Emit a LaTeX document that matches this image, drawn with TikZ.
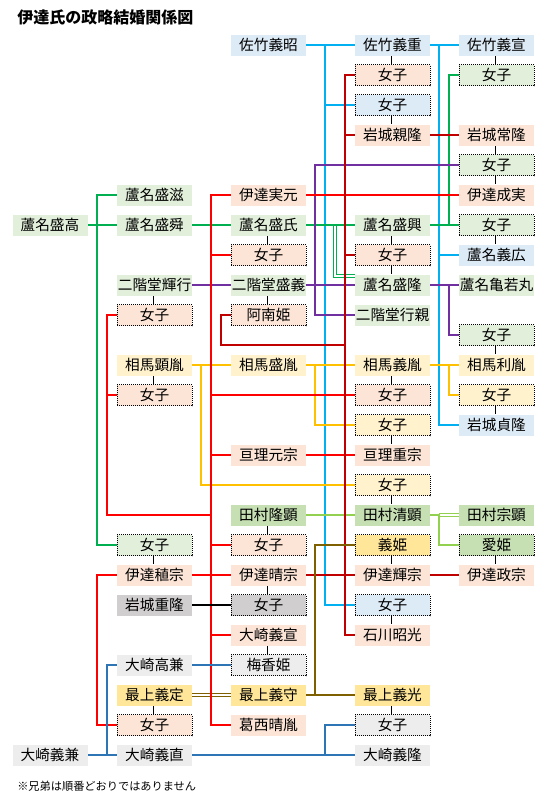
\documentclass[tikz,border=0pt]{standalone}
\usepackage{fontspec}
\newfontfamily\jp{Noto Sans CJK JP}

% box fills
\definecolor{satakeB}{HTML}{DDEBF7}
\definecolor{dateP}{HTML}{FCE4D6}
\definecolor{ashinaG}{HTML}{E2EFDA}
\definecolor{tamuraG}{HTML}{C6E0B4}
\definecolor{somaY}{HTML}{FFF2CC}
\definecolor{mogamiY}{HTML}{FFE699}
\definecolor{iwakiGr}{HTML}{D0CECE}
\definecolor{osakiGr}{HTML}{EDEDED}
% line colours
\definecolor{lnCyan}{HTML}{00B0F0}
\definecolor{lnRed}{HTML}{FF0000}
\definecolor{lnDkRed}{HTML}{C00000}
\definecolor{lnGreen}{HTML}{00B050}
\definecolor{lnPurple}{HTML}{7030A0}
\definecolor{lnYellow}{HTML}{FFC000}
\definecolor{lnLgreen}{HTML}{92D050}
\definecolor{lnBrown}{HTML}{7F6000}
\definecolor{lnBlue}{HTML}{2E75B6}

\begin{document}
\begin{tikzpicture}[x=0.75pt, y=-0.75pt,
    every node/.style={font=\jp\fontsize{11pt}{13pt}\selectfont},
    person/.style={minimum width=56.25pt, minimum height=15.75pt, inner sep=0pt, text height=9.7pt, text depth=1.3pt},
    jo/.style={person, draw=black, line width=0.75pt, dash pattern=on 0.75pt off 0.75pt},
    kin/.style={line width=1.6pt},
    wed/.style={draw=black, line width=0.6pt, double=white, double distance=1.5pt},
    adopt/.style={line width=0.85pt, double=white, double distance=1.3pt}]
      \useasboundingbox (0,0) rectangle (554,803);
      \fill[white] (0,0) rectangle (554,803);

      % Title and note
      \node[anchor=west, inner sep=0pt, font=\jp\bfseries\fontsize{12pt}{14pt}\selectfont] (title) at (17,17.5) {伊達氏の政略結婚関係図};
      \node[anchor=west, inner sep=0pt, font=\jp\fontsize{8.4pt}{10pt}\selectfont] (note) at (17,786) {※兄弟は順番どおりではありません};

      % Trunk positions
      \coordinate (xG) at (96.7,0);
      \coordinate (xL) at (106.7,0);
      \coordinate (xY) at (201,0);
      \coordinate (xT) at (210.7,0);
      \coordinate (anJ) at (220.7,345);
      \coordinate (xP) at (315,0);
      \coordinate (xS) at (325,0);
      \coordinate (xA) at (335,0);
      \coordinate (xH) at (345,0);
      \coordinate (xS2) at (439,0);
      \coordinate (xN) at (449,0);

      % Satake row
      \node[person, fill=satakeB] (yoshiaki) at (268.5,45) {佐竹義昭};
      \node[person, fill=satakeB] (yoshishige) at (392.5,45) {佐竹義重};
      \node[person, fill=satakeB] (yoshinobu) at (496.5,45) {佐竹義宣};
      \node[jo, fill=dateP] (joB3) at (392.5,75) {女子};
      \node[jo, fill=ashinaG] (joB4) at (496.5,75) {女子};
      \node[jo, fill=satakeB] (joC3) at (392.5,105) {女子};
      \node[person, fill=dateP] (chikataka) at (392.5,135) {岩城親隆};
      \node[person, fill=dateP] (tsunetaka) at (496.5,135) {岩城常隆};
      \node[jo, fill=ashinaG] (joE4) at (496.5,165) {女子};

      % Ashina rows
      \node[person, fill=ashinaG] (moriki) at (154.5,195) {蘆名盛滋};
      \node[person, fill=dateP] (sanemoto) at (268.5,195) {伊達実元};
      \node[person, fill=dateP] (shigezane) at (496.5,195) {伊達成実};
      \node[person, fill=ashinaG] (moritakaH) at (50,225) {蘆名盛高};
      \node[person, fill=ashinaG] (morikiyo) at (154.5,225) {蘆名盛舜};
      \node[person, fill=ashinaG] (moriuji) at (268.5,225) {蘆名盛氏};
      \node[person, fill=ashinaG] (morioki) at (392.5,225) {蘆名盛興};
      \node[jo, fill=ashinaG] (joG4) at (496.5,225) {女子};
      \node[jo, fill=dateP] (joH2) at (268.5,255) {女子};
      \node[jo, fill=dateP] (joH3) at (392.5,255) {女子};
      \node[person, fill=satakeB] (yoshihiro) at (496.5,255) {蘆名義広};

      % Nikaido rows
      \node[person, fill=ashinaG] (teruyuki) at (154.5,285) {二階堂輝行};
      \node[person, fill=ashinaG] (moriyoshi) at (268.5,285) {二階堂盛義};
      \node[person, fill=ashinaG] (moritakaR) at (392.5,285) {蘆名盛隆};
      \node[person, fill=ashinaG] (kamewaka) at (496.5,285) {蘆名亀若丸};
      \node[jo, fill=dateP] (joJ1) at (154.5,315) {女子};
      \node[jo, fill=dateP] (anan) at (268.5,315) {阿南姫};
      \node[person, fill=ashinaG] (yukichika) at (392.5,315) {二階堂行親};
      \node[jo, fill=ashinaG] (joK4) at (496.5,335) {女子};

      % Soma rows
      \node[person, fill=somaY] (akitane) at (154.5,365) {相馬顕胤};
      \node[person, fill=somaY] (moritane) at (268.5,365) {相馬盛胤};
      \node[person, fill=somaY] (yoshitane) at (392.5,365) {相馬義胤};
      \node[person, fill=somaY] (toshitane) at (496.5,365) {相馬利胤};
      \node[jo, fill=dateP] (joM1) at (154.5,395) {女子};
      \node[jo, fill=dateP] (joM3) at (392.5,395) {女子};
      \node[jo, fill=somaY] (joM4) at (496.5,395) {女子};
      \node[jo, fill=somaY] (joN3) at (392.5,425) {女子};
      \node[person, fill=satakeB] (sadataka) at (496.5,425) {岩城貞隆};
      \node[person, fill=dateP] (motomune) at (268.5,455) {亘理元宗};
      \node[person, fill=dateP] (shigemune) at (392.5,455) {亘理重宗};
      \node[jo, fill=somaY] (joP3) at (392.5,485) {女子};

      % Tamura and Date rows
      \node[person, fill=tamuraG] (takaaki) at (268.5,515) {田村隆顕};
      \node[person, fill=tamuraG] (kiyoaki) at (392.5,515) {田村清顕};
      \node[person, fill=tamuraG] (muneaki) at (496.5,515) {田村宗顕};
      \node[jo, fill=ashinaG] (joR1) at (154.5,545) {女子};
      \node[jo, fill=dateP] (joR2) at (268.5,545) {女子};
      \node[jo, fill=mogamiY] (yoshihime) at (392.5,545) {義姫};
      \node[jo, fill=tamuraG] (megohime) at (496.5,545) {愛姫};
      \node[person, fill=dateP] (tanemune) at (154.5,575) {伊達稙宗};
      \node[person, fill=dateP] (harumune) at (268.5,575) {伊達晴宗};
      \node[person, fill=dateP] (terumune) at (392.5,575) {伊達輝宗};
      \node[person, fill=dateP] (masamune) at (496.5,575) {伊達政宗};
      \node[person, fill=iwakiGr] (shigetaka) at (154.5,605) {岩城重隆};
      \node[jo, fill=iwakiGr] (joT2) at (268.5,605) {女子};
      \node[jo, fill=satakeB] (joT3) at (392.5,605) {女子};
      \node[person, fill=dateP] (yoshinobuO) at (268.5,635) {大崎義宣};
      \node[person, fill=dateP] (akimitsu) at (392.5,635) {石川昭光};

      % Osaki and Mogami rows
      \node[person, fill=osakiGr] (takakane) at (154.5,665) {大崎高兼};
      \node[jo, fill=osakiGr] (baika) at (268.5,665) {梅香姫};
      \node[person, fill=mogamiY] (yoshisada) at (154.5,695) {最上義定};
      \node[person, fill=mogamiY] (yoshimori) at (268.5,695) {最上義守};
      \node[person, fill=mogamiY] (yoshiakiM) at (392.5,695) {最上義光};
      \node[jo, fill=dateP] (joX1) at (154.5,725) {女子};
      \node[person, fill=dateP] (harutane) at (268.5,725) {葛西晴胤};
      \node[jo, fill=osakiGr] (joX3) at (392.5,725) {女子};
      \node[person, fill=osakiGr] (yoshikane) at (50,755) {大崎義兼};
      \node[person, fill=osakiGr] (yoshinao) at (154.5,755) {大崎義直};
      \node[person, fill=osakiGr] (yoshitakaO) at (392.5,755) {大崎義隆};

      % Adoptions
      \draw[adopt, lnGreen] (moriuji.east -| xA) |- ([yshift=-1.5pt]moritakaR.north west);
      \draw[adopt, lnLgreen] (kiyoaki.east -| xS2) -- (muneaki.west);
      \draw[adopt, lnBrown] (yoshisada) -- (yoshimori);

      % Satake lines
      \draw[kin, lnCyan] (yoshiaki) -- (yoshishige);
      \draw[kin, lnCyan] (yoshiaki.east -| xS) |- (joT3.west);
      \draw[kin, lnCyan] (joC3.west -| xS) -- (joC3.west);
      \draw[kin, lnCyan] (yoshishige) -- (yoshinobu);
      \draw[kin, lnCyan] (yoshishige.east -| xS2) |- (sadataka.west);
      \draw[kin, lnCyan] (yoshihiro.west -| xS2) -- (yoshihiro.west);

      % Ashina lines
      \draw[kin, lnGreen] (moriki.west) -| (joR1.west -| xG) -- (joR1.west);
      \draw[kin, lnGreen] (moritakaH) -- (morikiyo);
      \draw[kin, lnGreen] (morikiyo) -- (moriuji);
      \draw[kin, lnGreen] (moriuji) -- (morioki);
      \draw[kin, lnGreen] (morioki) -- (joG4);
      \draw[kin, lnGreen] (morioki.east -| xN) |- (joB4.west);

      % Nikaido lines
      \draw[kin, lnPurple] (teruyuki) -- (moriyoshi);
      \draw[kin, lnPurple] (joE4.west) -| (yukichika.west -| xP) -- (yukichika.west);
      \draw[kin, lnPurple] (moriyoshi) -- (moritakaR);
      \draw[kin, lnPurple] (moritakaR) -- (kamewaka);
      \draw[kin, lnPurple] (moritakaR.east -| xN) |- (joK4.west);

      % Soma lines
      \draw[kin, lnYellow] (akitane) -- (moritane);
      \draw[kin, lnYellow] (akitane.east -| xY) |- (joP3.west);
      \draw[kin, lnYellow] (moritane) -- (yoshitane);
      \draw[kin, lnYellow] (moritane.east -| xP) |- (joN3.west);
      \draw[kin, lnYellow] (yoshitane) -- (toshitane);
      \draw[kin, lnYellow] (yoshitane.east -| xN) |- (joM4.west);

      % Tamura lines
      \draw[kin, lnLgreen] (takaaki) -- (kiyoaki);
      \draw[kin, lnLgreen] (kiyoaki.east) -| (megohime.west -| xS2) -- (megohime.west);

      % Date Tanemune's children
      \draw[kin, lnRed] (sanemoto.west) -| (harutane.west -| xT) -- (harutane.west);
      \draw[kin, lnRed] (sanemoto) -- (shigezane);
      \draw[kin, lnRed] (joH2.west -| xT) -- (joH2.west);
      \draw[kin, lnRed] (joM3.west -| xT) -- (joM3.west);
      \draw[kin, lnRed] (motomune.west -| xT) -- (motomune.west);
      \draw[kin, lnRed] (motomune) -- (shigemune);
      \draw[kin, lnRed] (joR2.west -| xT) -- (joR2.west);
      \draw[kin, lnRed] (tanemune) -- (harumune);
      \draw[kin, lnRed] (yoshinobuO.west -| xT) -- (yoshinobuO.west);
      \draw[kin, lnRed] (joJ1.west) -| (takaaki.west -| xL) -- (takaaki.west -| xT);
      \draw[kin, lnRed] (joM1.west) -- (joM1.west -| xL);
      \draw[kin, lnRed] (tanemune.west) -| (joX1.west -| xG) -- (joX1.west);

      % Date Harumune's children
      \draw[kin, lnDkRed] (joB3.west) -| (akimitsu.west -| xH) -- (akimitsu.west);
      \draw[kin, lnDkRed] (chikataka.west -| xH) -- (chikataka.west);
      \draw[kin, lnDkRed] (chikataka) -- (tsunetaka);
      \draw[kin, lnDkRed] (joH3.west -| xH) -- (joH3.west);
      \draw[kin, lnDkRed] (anan.west) -| (anJ) -- (anJ -| xH);
      \draw[kin, lnDkRed] (harumune) -- (terumune);
      \draw[kin, lnDkRed] (terumune) -- (masamune);

      % Mogami lines
      \draw[kin, lnBrown] (yoshimori) -- (yoshiakiM);
      \draw[kin, lnBrown] (yoshimori.east -| xP) |- (yoshihime.west);

      % Osaki and Iwaki lines
      \draw[kin, lnBlue] (yoshikane) -- (yoshinao);
      \draw[kin, lnBlue] (yoshikane.east -| xL) |- (takakane.west);
      \draw[kin, lnBlue] (takakane) -- (baika);
      \draw[kin, lnBlue] (yoshinao) -- (yoshitakaO);
      \draw[kin, lnBlue] (yoshinao.east -| xS) |- (joX3.west);
      \draw[kin, black] (shigetaka) -- (joT2);

      % Marriages
      \draw[wed] (yoshishige) -- (joB3);
      \draw[wed] (yoshinobu) -- (joB4);
      \draw[wed] (joC3) -- (chikataka);
      \draw[wed] (tsunetaka) -- (joE4);
      \draw[wed] (joE4) -- (shigezane);
      \draw[wed] (moriuji) -- (joH2);
      \draw[wed] (morioki) -- (joH3);
      \draw[wed] (joH3) -- (moritakaR);
      \draw[wed] (joG4) -- (yoshihiro);
      \draw[wed] (teruyuki) -- (joJ1);
      \draw[wed] (moriyoshi) -- (anan);
      \draw[wed] (joK4) -- (toshitane);
      \draw[wed] (akitane) -- (joM1);
      \draw[wed] (yoshitane) -- (joM3);
      \draw[wed] (joM4) -- (sadataka);
      \draw[wed] (joN3) -- (shigemune);
      \draw[wed] (joP3) -- (kiyoaki);
      \draw[wed] (takaaki) -- (joR2);
      \draw[wed] (joR1) -- (tanemune);
      \draw[wed] (yoshihime) -- (terumune);
      \draw[wed] (megohime) -- (masamune);
      \draw[wed] (harumune) -- (joT2);
      \draw[wed] (joT3) -- (akimitsu);
      \draw[wed] (yoshinobuO) -- (baika);
      \draw[wed] (yoshisada) -- (joX1);
      \draw[wed] (yoshiakiM) -- (joX3);
\end{tikzpicture}
\end{document}
